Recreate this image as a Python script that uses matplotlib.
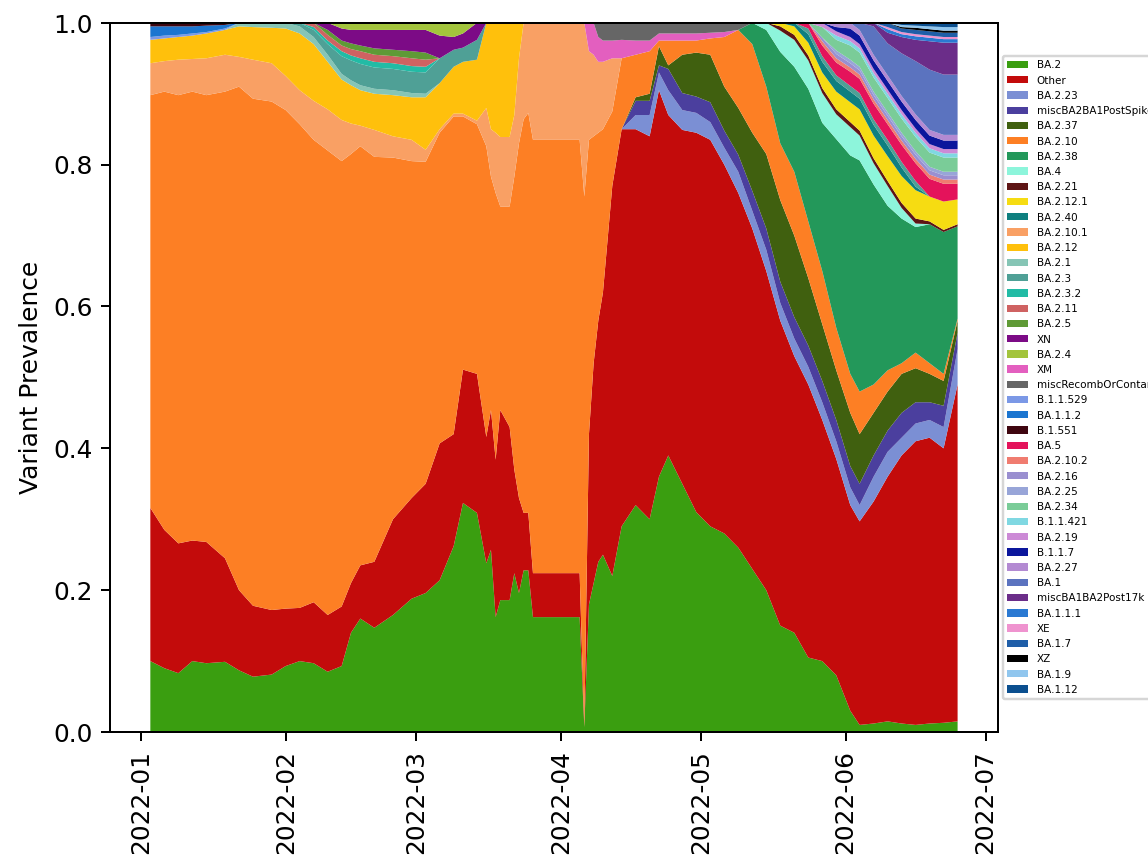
import matplotlib

matplotlib.use("Agg")
import matplotlib.dates as mdates
import matplotlib.pyplot as plt
import pandas as pd

# sample dates (irregular: denser where the shares jump)
dates = [
    "2022-01-03", "2022-01-06", "2022-01-09", "2022-01-12", "2022-01-15", "2022-01-19", "2022-01-22", "2022-01-25", "2022-01-29", "2022-02-01",
    "2022-02-04", "2022-02-07", "2022-02-10", "2022-02-13", "2022-02-15", "2022-02-17", "2022-02-20", "2022-02-24", "2022-02-28", "2022-03-03",
    "2022-03-06", "2022-03-09", "2022-03-11", "2022-03-14", "2022-03-16", "2022-03-17", "2022-03-18", "2022-03-19", "2022-03-21", "2022-03-22",
    "2022-03-23", "2022-03-24", "2022-03-25", "2022-03-26", "2022-03-31", "2022-04-05", "2022-04-06", "2022-04-07", "2022-04-08", "2022-04-09",
    "2022-04-10", "2022-04-12", "2022-04-14", "2022-04-17", "2022-04-20", "2022-04-22", "2022-04-24", "2022-04-27", "2022-04-30", "2022-05-03",
    "2022-05-06", "2022-05-09", "2022-05-12", "2022-05-15", "2022-05-18", "2022-05-21", "2022-05-24", "2022-05-27", "2022-05-30", "2022-06-02",
    "2022-06-04", "2022-06-07", "2022-06-10", "2022-06-13", "2022-06-16", "2022-06-19", "2022-06-22", "2022-06-25",
]

ba2 = [
    .100, .090, .083, .100, .097, .099, .087, .078, .081, .093,
    .100, .097, .085, .093, .140, .160, .147, .165, .188, .196,
    .214, .262, .323, .309, .238, .257, .162, .186, .186, .224,
    .196, .228, .228, .162, .162, .162, .007, .180, .210, .240,
    .250, .220, .290, .320, .300, .360, .390, .350, .310, .290,
    .280, .260, .230, .200, .150, .140, .105, .100, .080, .030,
    .010, .012, .015, .012, .010, .012, .013, .015]
other = [
    .216, .195, .183, .170, .171, .146, .113, .100, .091, .081,
    .075, .086, .080, .084, .070, .075, .093, .135, .142, .154,
    .193, .158, .188, .196, .178, .197, .222, .268, .244, .146,
    .134, .081, .081, .062, .062, .062, 0, .240, .310, .340,
    .370, .550, .560, .530, .540, .545, .480, .499, .535, .545,
    .520, .500, .480, .450, .430, .390, .385, .340, .305, .290,
    .287, .313, .345, .378, .400, .403, .387, .475]
ba2_23 = [
    0, 0, 0, 0, 0, 0, 0, 0, 0, 0,
    0, 0, 0, 0, 0, 0, 0, 0, 0, 0,
    0, 0, 0, 0, 0, 0, 0, 0, 0, 0,
    0, 0, 0, 0, 0, 0, 0, 0, 0, 0,
    0, 0, 0, .020, .030, .025, .035, .028, .028, .025,
    .024, .030, .025, .030, .025, .025, .025, .025, .025, .025,
    .023, .035, .035, .025, .025, .025, .030, .050]
misc_ba2_ba1_spike = [
    0, 0, 0, 0, 0, 0, 0, 0, 0, 0,
    0, 0, 0, 0, 0, 0, 0, 0, 0, 0,
    0, 0, 0, 0, 0, 0, 0, 0, 0, 0,
    0, 0, 0, 0, 0, 0, 0, 0, 0, 0,
    0, 0, 0, .020, .020, .010, .030, .024, .023, .028,
    .024, .024, .028, .030, .030, .030, .030, .030, .030, .030,
    .030, .030, .030, .035, .030, .025, .030, .023]
ba2_37 = [
    0, 0, 0, 0, 0, 0, 0, 0, 0, 0,
    0, 0, 0, 0, 0, 0, 0, 0, 0, 0,
    0, 0, 0, 0, 0, 0, 0, 0, 0, 0,
    0, 0, 0, 0, 0, 0, 0, 0, 0, 0,
    0, 0, 0, .005, .010, .027, .005, .054, .062, .067,
    .062, .066, .082, .105, .115, .115, .095, .080, .070, .075,
    .070, .060, .055, .055, .048, .040, .035, .017]
ba2_10 = [
    .582, .618, .632, .633, .630, .658, .710, .715, .717, .703,
    .682, .652, .655, .628, .605, .591, .571, .510, .475, .454,
    .438, .448, .357, .352, .410, .329, .376, .287, .311, .413,
    .500, .555, .564, .611, .611, .611, .748, .415, .320, .265,
    .230, .105, .100, .060, .060, .008, .035, .020, .017, .023,
    .070, .110, .125, .095, .080, .090, .080, .075, .060, .055,
    .060, .040, .030, .015, .022, .015, .010, .003]
ba2_38 = [
    0, 0, 0, 0, 0, 0, 0, 0, 0, 0,
    0, 0, 0, 0, 0, 0, 0, 0, 0, 0,
    0, 0, 0, 0, 0, 0, 0, 0, 0, 0,
    0, 0, 0, 0, 0, 0, 0, 0, 0, 0,
    0, 0, 0, 0, 0, 0, 0, 0, 0, 0,
    0, 0, .030, .080, .129, .148, .187, .209, .266, .308,
    .326, .282, .232, .204, .177, .196, .200, .130]
ba4 = [
    0, 0, 0, 0, 0, 0, 0, 0, 0, 0,
    0, 0, 0, 0, 0, 0, 0, 0, 0, 0,
    0, 0, 0, 0, 0, 0, 0, 0, 0, 0,
    0, 0, 0, 0, 0, 0, 0, 0, 0, 0,
    0, 0, 0, 0, 0, 0, 0, 0, 0, 0,
    0, 0, 0, .010, .030, .038, .040, .042, .035, .040,
    .035, .030, .028, .015, .005, 0, 0, 0]
ba2_21 = [
    0, 0, 0, 0, 0, 0, 0, 0, 0, 0,
    0, 0, 0, 0, 0, 0, 0, 0, 0, 0,
    0, 0, 0, 0, 0, 0, 0, 0, 0, 0,
    0, 0, 0, 0, 0, 0, 0, 0, 0, 0,
    0, 0, 0, 0, 0, 0, 0, 0, 0, 0,
    0, 0, 0, 0, .006, .007, .007, .007, .007, .007,
    .007, .007, .007, .007, .007, .004, .003, .003]
ba2_12_1 = [
    0, 0, 0, 0, 0, 0, 0, 0, 0, 0,
    0, 0, 0, 0, 0, 0, 0, 0, 0, 0,
    0, 0, 0, 0, 0, 0, 0, 0, 0, 0,
    0, 0, 0, 0, 0, 0, 0, 0, 0, 0,
    0, 0, 0, 0, 0, 0, 0, 0, 0, 0,
    0, 0, 0, 0, .005, .012, .018, .022, .025, .028,
    .030, .032, .035, .038, .040, .035, .040, .035]
ba2_40 = [
    0, 0, 0, 0, 0, 0, 0, 0, 0, 0,
    0, 0, 0, 0, 0, 0, 0, 0, 0, 0,
    0, 0, 0, 0, 0, 0, 0, 0, 0, 0,
    0, 0, 0, 0, 0, 0, 0, 0, 0, 0,
    0, 0, 0, 0, 0, 0, 0, 0, 0, 0,
    0, 0, 0, 0, 0, .005, .012, .015, .015, .015,
    .015, .015, .015, .012, .005, 0, 0, 0]
ba2_10_1 = [
    .045, .043, .050, .046, .052, .052, .042, .055, .054, .048,
    .048, .055, .058, .058, .043, .029, .038, .030, .030, .017,
    .005, .004, .004, .005, .054, .067, .085, .098, .098, .087,
    .120, .136, .127, .165, .165, .165, .245, .125, .115, .100,
    .095, .075, 0, 0, 0, 0, 0, 0, 0, 0,
    0, 0, 0, 0, 0, 0, 0, 0, 0, 0,
    0, 0, 0, 0, 0, 0, 0, 0]
ba2_12 = [
    .033, .032, .032, .033, .035, .035, .043, .046, .050, .067,
    .080, .080, .067, .057, .054, .050, .051, .058, .060, .074,
    .065, .066, .073, .086, .120, .150, .155, .161, .161, .130,
    .050, 0, 0, 0, 0, 0, 0, 0, 0, 0,
    0, 0, 0, 0, 0, 0, 0, 0, 0, 0,
    0, 0, 0, 0, 0, 0, 0, 0, 0, 0,
    0, 0, 0, 0, 0, 0, 0, 0]
ba2_1 = [
    0, 0, 0, 0, 0, 0, .005, .006, .007, .008,
    .010, .010, .010, .008, .007, .007, .007, .007, .006, .005,
    0, 0, 0, 0, 0, 0, 0, 0, 0, 0,
    0, 0, 0, 0, 0, 0, 0, 0, 0, 0,
    0, 0, 0, 0, 0, 0, 0, 0, 0, 0,
    0, 0, 0, 0, 0, 0, 0, 0, 0, 0,
    0, 0, 0, 0, 0, 0, 0, 0]
ba2_3 = [
    0, 0, 0, 0, 0, 0, 0, 0, 0, 0,
    .005, .010, .015, .025, .028, .030, .030, .030, .030, .030,
    .035, .024, .020, .028, 0, 0, 0, 0, 0, 0,
    0, 0, 0, 0, 0, 0, 0, 0, 0, 0,
    0, 0, 0, 0, 0, 0, 0, 0, 0, 0,
    0, 0, 0, 0, 0, 0, .008, .008, .008, .008,
    .008, .008, .008, .008, .008, 0, 0, 0]
ba2_3_2 = [
    0, 0, 0, 0, 0, 0, 0, 0, 0, 0,
    0, .004, .005, .007, .007, .008, .008, .008, .008, .008,
    0, 0, 0, 0, 0, 0, 0, 0, 0, 0,
    0, 0, 0, 0, 0, 0, 0, 0, 0, 0,
    0, 0, 0, 0, 0, 0, 0, 0, 0, 0,
    0, 0, 0, 0, 0, 0, 0, 0, 0, 0,
    0, 0, 0, 0, 0, 0, 0, 0]
ba2_11 = [
    0, 0, 0, 0, 0, 0, 0, 0, 0, 0,
    0, .006, .008, .008, .009, .010, .010, .010, .011, .010,
    0, 0, 0, 0, 0, 0, 0, 0, 0, 0,
    0, 0, 0, 0, 0, 0, 0, 0, 0, 0,
    0, 0, 0, 0, 0, 0, 0, 0, 0, 0,
    0, 0, 0, 0, 0, 0, 0, 0, 0, 0,
    0, 0, 0, 0, 0, 0, 0, 0]
ba2_5 = [
    0, 0, 0, 0, 0, 0, 0, 0, 0, 0,
    0, 0, .007, .007, .008, .008, .009, .009, .010, .010,
    0, 0, 0, 0, 0, 0, 0, 0, 0, 0,
    0, 0, 0, 0, 0, 0, 0, 0, 0, 0,
    0, 0, 0, 0, 0, 0, 0, 0, 0, 0,
    0, 0, 0, 0, 0, 0, 0, 0, 0, 0,
    0, 0, 0, 0, 0, 0, 0, 0]
xn = [
    0, 0, 0, 0, 0, 0, 0, 0, 0, 0,
    0, 0, .010, .017, .019, .022, .026, .028, .030, .032,
    .032, .018, .020, .024, 0, 0, 0, 0, 0, 0,
    0, 0, 0, 0, 0, 0, 0, 0, 0, 0,
    0, 0, 0, 0, 0, 0, 0, 0, 0, 0,
    0, 0, 0, 0, 0, 0, 0, 0, 0, 0,
    0, 0, 0, 0, 0, 0, 0, 0]
ba2_4 = [
    0, 0, 0, 0, 0, 0, 0, 0, 0, 0,
    0, 0, 0, .008, .010, .010, .010, .010, .010, .010,
    .018, .020, .015, 0, 0, 0, 0, 0, 0, 0,
    0, 0, 0, 0, 0, 0, 0, 0, 0, 0,
    0, 0, 0, 0, 0, 0, 0, 0, 0, 0,
    0, 0, 0, 0, 0, 0, 0, 0, 0, 0,
    0, 0, 0, 0, 0, 0, 0, 0]
xm = [
    0, 0, 0, 0, 0, 0, 0, 0, 0, 0,
    0, 0, 0, 0, 0, 0, 0, 0, 0, 0,
    0, 0, 0, 0, 0, 0, 0, 0, 0, 0,
    0, 0, 0, 0, 0, 0, 0, .040, .045, .035,
    .030, .025, .026, .020, .015, .010, .010, .010, .010, .008,
    .007, 0, 0, 0, 0, 0, 0, 0, 0, 0,
    0, 0, 0, 0, 0, 0, 0, 0]
misc_recomb = [
    0, 0, 0, 0, 0, 0, 0, 0, 0, 0,
    0, 0, 0, 0, 0, 0, 0, 0, 0, 0,
    0, 0, 0, 0, 0, 0, 0, 0, 0, 0,
    0, 0, 0, 0, 0, 0, 0, 0, 0, .020,
    .025, .025, .024, .025, .025, .015, .015, .015, .015, .014,
    .013, .010, 0, 0, 0, 0, 0, 0, 0, 0,
    0, 0, 0, 0, 0, 0, 0, 0]
b_1_1_529 = [
    .004, .004, .003, .003, .002, .002, 0, 0, 0, 0,
    0, 0, 0, 0, 0, 0, 0, 0, 0, 0,
    0, 0, 0, 0, 0, 0, 0, 0, 0, 0,
    0, 0, 0, 0, 0, 0, 0, 0, 0, 0,
    0, 0, 0, 0, 0, 0, 0, 0, 0, 0,
    0, 0, 0, 0, 0, 0, 0, 0, 0, 0,
    0, 0, 0, 0, 0, 0, 0, 0]
ba1_1_2 = [
    .015, .013, .012, .010, .009, .005, 0, 0, 0, 0,
    0, 0, 0, 0, 0, 0, 0, 0, 0, 0,
    0, 0, 0, 0, 0, 0, 0, 0, 0, 0,
    0, 0, 0, 0, 0, 0, 0, 0, 0, 0,
    0, 0, 0, 0, 0, 0, 0, 0, 0, 0,
    0, 0, 0, 0, 0, 0, 0, 0, 0, 0,
    0, 0, 0, 0, 0, 0, 0, 0]
b_1_551 = [
    .005, .005, .005, .005, .004, .003, 0, 0, 0, 0,
    0, 0, 0, 0, 0, 0, 0, 0, 0, 0,
    0, 0, 0, 0, 0, 0, 0, 0, 0, 0,
    0, 0, 0, 0, 0, 0, 0, 0, 0, 0,
    0, 0, 0, 0, 0, 0, 0, 0, 0, 0,
    0, 0, 0, 0, 0, 0, 0, 0, 0, 0,
    0, 0, 0, 0, 0, 0, 0, 0]
ba5 = [
    0, 0, 0, 0, 0, 0, 0, 0, 0, 0,
    0, 0, 0, 0, 0, 0, 0, 0, 0, 0,
    0, 0, 0, 0, 0, 0, 0, 0, 0, 0,
    0, 0, 0, 0, 0, 0, 0, 0, 0, 0,
    0, 0, 0, 0, 0, 0, 0, 0, 0, 0,
    0, 0, 0, 0, 0, 0, .008, .015, .018, .020,
    .020, .022, .022, .024, .025, .025, .025, .022]
ba2_10_2 = [
    0, 0, 0, 0, 0, 0, 0, 0, 0, 0,
    0, 0, 0, 0, 0, 0, 0, 0, 0, 0,
    0, 0, 0, 0, 0, 0, 0, 0, 0, 0,
    0, 0, 0, 0, 0, 0, 0, 0, 0, 0,
    0, 0, 0, 0, 0, 0, 0, 0, 0, 0,
    0, 0, 0, 0, 0, 0, 0, .006, .006, .006,
    .006, .006, .006, .006, .006, .006, .006, .006]
ba2_16 = [
    0, 0, 0, 0, 0, 0, 0, 0, 0, 0,
    0, 0, 0, 0, 0, 0, 0, 0, 0, 0,
    0, 0, 0, 0, 0, 0, 0, 0, 0, 0,
    0, 0, 0, 0, 0, 0, 0, 0, 0, 0,
    0, 0, 0, 0, 0, 0, 0, 0, 0, 0,
    0, 0, 0, 0, 0, 0, 0, .005, .006, .006,
    .006, .006, .006, .006, .006, .006, .006, .006]
ba2_25 = [
    0, 0, 0, 0, 0, 0, 0, 0, 0, 0,
    0, 0, 0, 0, 0, 0, 0, 0, 0, 0,
    0, 0, 0, 0, 0, 0, 0, 0, 0, 0,
    0, 0, 0, 0, 0, 0, 0, 0, 0, 0,
    0, 0, 0, 0, 0, 0, 0, 0, 0, 0,
    0, 0, 0, 0, 0, 0, 0, 0, .005, .005,
    .005, .005, .005, .005, .005, .005, .005, .005]
ba2_34 = [
    0, 0, 0, 0, 0, 0, 0, 0, 0, 0,
    0, 0, 0, 0, 0, 0, 0, 0, 0, 0,
    0, 0, 0, 0, 0, 0, 0, 0, 0, 0,
    0, 0, 0, 0, 0, 0, 0, 0, 0, 0,
    0, 0, 0, 0, 0, 0, 0, 0, 0, 0,
    0, 0, 0, 0, 0, 0, 0, .015, .015, .020,
    .020, .020, .020, .020, .020, .020, .020, .020]
b_1_1_421 = [
    0, 0, 0, 0, 0, 0, 0, 0, 0, 0,
    0, 0, 0, 0, 0, 0, 0, 0, 0, 0,
    0, 0, 0, 0, 0, 0, 0, 0, 0, 0,
    0, 0, 0, 0, 0, 0, 0, 0, 0, 0,
    0, 0, 0, 0, 0, 0, 0, 0, 0, 0,
    0, 0, 0, 0, 0, 0, 0, 0, .006, .006,
    .006, .006, .006, .006, .006, .006, .006, .006]
ba2_19 = [
    0, 0, 0, 0, 0, 0, 0, 0, 0, 0,
    0, 0, 0, 0, 0, 0, 0, 0, 0, 0,
    0, 0, 0, 0, 0, 0, 0, 0, 0, 0,
    0, 0, 0, 0, 0, 0, 0, 0, 0, 0,
    0, 0, 0, 0, 0, 0, 0, 0, 0, 0,
    0, 0, 0, 0, 0, 0, 0, .006, .006, .006,
    .006, .006, .006, .006, .006, .006, .006, .006]
b_1_1_7 = [
    0, 0, 0, 0, 0, 0, 0, 0, 0, 0,
    0, 0, 0, 0, 0, 0, 0, 0, 0, 0,
    0, 0, 0, 0, 0, 0, 0, 0, 0, 0,
    0, 0, 0, 0, 0, 0, 0, 0, 0, 0,
    0, 0, 0, 0, 0, 0, 0, 0, 0, 0,
    0, 0, 0, 0, 0, 0, 0, 0, .006, .012,
    .012, .012, .012, .012, .012, .012, .012, .012]
ba2_27 = [
    0, 0, 0, 0, 0, 0, 0, 0, 0, 0,
    0, 0, 0, 0, 0, 0, 0, 0, 0, 0,
    0, 0, 0, 0, 0, 0, 0, 0, 0, 0,
    0, 0, 0, 0, 0, 0, 0, 0, 0, 0,
    0, 0, 0, 0, 0, 0, 0, 0, 0, 0,
    0, 0, 0, 0, 0, 0, 0, 0, .006, .008,
    .008, .008, .008, .008, .008, .008, .008, .008]
ba1 = [
    0, 0, 0, 0, 0, 0, 0, 0, 0, 0,
    0, 0, 0, 0, 0, 0, 0, 0, 0, 0,
    0, 0, 0, 0, 0, 0, 0, 0, 0, 0,
    0, 0, 0, 0, 0, 0, 0, 0, 0, 0,
    0, 0, 0, 0, 0, 0, 0, 0, 0, 0,
    0, 0, 0, 0, 0, 0, 0, 0, 0, 0,
    .010, .040, .045, .060, .075, .085, .085, .085]
misc_ba1_ba2_17k = [
    0, 0, 0, 0, 0, 0, 0, 0, 0, 0,
    0, 0, 0, 0, 0, 0, 0, 0, 0, 0,
    0, 0, 0, 0, 0, 0, 0, 0, 0, 0,
    0, 0, 0, 0, 0, 0, 0, 0, 0, 0,
    0, 0, 0, 0, 0, 0, 0, 0, 0, 0,
    0, 0, 0, 0, 0, 0, 0, 0, 0, 0,
    0, .005, .015, .023, .030, .040, .045, .045]
ba1_1_1 = [
    0, 0, 0, 0, 0, 0, 0, 0, 0, 0,
    0, 0, 0, 0, 0, 0, 0, 0, 0, 0,
    0, 0, 0, 0, 0, 0, 0, 0, 0, 0,
    0, 0, 0, 0, 0, 0, 0, 0, 0, 0,
    0, 0, 0, 0, 0, 0, 0, 0, 0, 0,
    0, 0, 0, 0, 0, 0, 0, 0, 0, 0,
    0, 0, .005, .004, .005, .005, .005, .005]
xe = [
    0, 0, 0, 0, 0, 0, 0, 0, 0, 0,
    0, 0, 0, 0, 0, 0, 0, 0, 0, 0,
    0, 0, 0, 0, 0, 0, 0, 0, 0, 0,
    0, 0, 0, 0, 0, 0, 0, 0, 0, 0,
    0, 0, 0, 0, 0, 0, 0, 0, 0, 0,
    0, 0, 0, 0, 0, 0, 0, 0, 0, 0,
    0, 0, .003, .003, .003, .003, .003, .003]
ba1_7 = [
    0, 0, 0, 0, 0, 0, 0, 0, 0, 0,
    0, 0, 0, 0, 0, 0, 0, 0, 0, 0,
    0, 0, 0, 0, 0, 0, 0, 0, 0, 0,
    0, 0, 0, 0, 0, 0, 0, 0, 0, 0,
    0, 0, 0, 0, 0, 0, 0, 0, 0, 0,
    0, 0, 0, 0, 0, 0, 0, 0, 0, 0,
    0, 0, .006, .005, .006, .006, .006, .006]
xz = [
    0, 0, 0, 0, 0, 0, 0, 0, 0, 0,
    0, 0, 0, 0, 0, 0, 0, 0, 0, 0,
    0, 0, 0, 0, 0, 0, 0, 0, 0, 0,
    0, 0, 0, 0, 0, 0, 0, 0, 0, 0,
    0, 0, 0, 0, 0, 0, 0, 0, 0, 0,
    0, 0, 0, 0, 0, 0, 0, 0, 0, 0,
    0, 0, 0, .002, .003, .003, .003, .003]
ba1_9 = [
    0, 0, 0, 0, 0, 0, 0, 0, 0, 0,
    0, 0, 0, 0, 0, 0, 0, 0, 0, 0,
    0, 0, 0, 0, 0, 0, 0, 0, 0, 0,
    0, 0, 0, 0, 0, 0, 0, 0, 0, 0,
    0, 0, 0, 0, 0, 0, 0, 0, 0, 0,
    0, 0, 0, 0, 0, 0, 0, 0, 0, 0,
    0, 0, 0, .003, .003, .004, .005, .005]
ba1_12 = [
    0, 0, 0, 0, 0, 0, 0, 0, 0, 0,
    0, 0, 0, 0, 0, 0, 0, 0, 0, 0,
    0, 0, 0, 0, 0, 0, 0, 0, 0, 0,
    0, 0, 0, 0, 0, 0, 0, 0, 0, 0,
    0, 0, 0, 0, 0, 0, 0, 0, 0, 0,
    0, 0, 0, 0, 0, 0, 0, 0, 0, 0,
    0, 0, 0, .003, .004, .005, .006, .006]

# (label, values, colour) in stacking order, bottom first
layers = [
    ("BA.2", ba2, "#3a9e10"),
    ("Other", other, "#c30b0b"),
    ("BA.2.23", ba2_23, "#7b8fd4"),
    ("miscBA2BA1PostSpike", misc_ba2_ba1_spike, "#4b3f9e"),
    ("BA.2.37", ba2_37, "#40600f"),
    ("BA.2.10", ba2_10, "#fd7f24"),
    ("BA.2.38", ba2_38, "#23985a"),
    ("BA.4", ba4, "#8df5db"),
    ("BA.2.21", ba2_21, "#5e1515"),
    ("BA.2.12.1", ba2_12_1, "#f6dc12"),
    ("BA.2.40", ba2_40, "#0e7f7f"),
    ("BA.2.10.1", ba2_10_1, "#f9a064"),
    ("BA.2.12", ba2_12, "#ffc00c"),
    ("BA.2.1", ba2_1, "#86c5b5"),
    ("BA.2.3", ba2_3, "#4fa096"),
    ("BA.2.3.2", ba2_3_2, "#22bba5"),
    ("BA.2.11", ba2_11, "#cf6262"),
    ("BA.2.5", ba2_5, "#5f9a36"),
    ("XN", xn, "#7c0b86"),
    ("BA.2.4", ba2_4, "#a3c43c"),
    ("XM", xm, "#e35fbf"),
    ("miscRecombOrContam", misc_recomb, "#666666"),
    ("B.1.1.529", b_1_1_529, "#7b98e6"),
    ("BA.1.1.2", ba1_1_2, "#1b75d0"),
    ("B.1.551", b_1_551, "#3f0610"),
    ("BA.5", ba5, "#e4135b"),
    ("BA.2.10.2", ba2_10_2, "#f07c70"),
    ("BA.2.16", ba2_16, "#9a8fd0"),
    ("BA.2.25", ba2_25, "#98a5d8"),
    ("BA.2.34", ba2_34, "#7acc98"),
    ("B.1.1.421", b_1_1_421, "#80d8e2"),
    ("BA.2.19", ba2_19, "#cc8ad6"),
    ("B.1.1.7", b_1_1_7, "#0b169c"),
    ("BA.2.27", ba2_27, "#b38ad2"),
    ("BA.1", ba1, "#5b73bf"),
    ("miscBA1BA2Post17k", misc_ba1_ba2_17k, "#6b2d89"),
    ("BA.1.1.1", ba1_1_1, "#2a79d2"),
    ("XE", xe, "#ef93cf"),
    ("BA.1.7", ba1_7, "#1f5ea8"),
    ("XZ", xz, "#000000"),
    ("BA.1.9", ba1_9, "#90c6ee"),
    ("BA.1.12", ba1_12, "#0b4f8f"),
]

x = pd.to_datetime(dates)
labels = [l[0] for l in layers]
values = [l[1] for l in layers]
colors = [l[2] for l in layers]

DPI = 179.375
fig = plt.figure(figsize=(6.4, 4.79), dpi=DPI)
ax = fig.add_axes([0.0958, 0.1478, 0.7735, 0.8254])
ax.stackplot(x, *values, labels=labels, colors=colors)
ax.set_ylim(0, 1)
ax.set_ylabel("Variant Prevalence")
ax.xaxis.set_major_locator(mdates.MonthLocator())
ax.xaxis.set_major_formatter(mdates.DateFormatter("%Y-%m"))
plt.setp(ax.get_xticklabels(), rotation=90)
ax.legend(loc="center left", bbox_to_anchor=(1.0, 0.5), fontsize=4.2)

fig.savefig("out.png", dpi=DPI)
